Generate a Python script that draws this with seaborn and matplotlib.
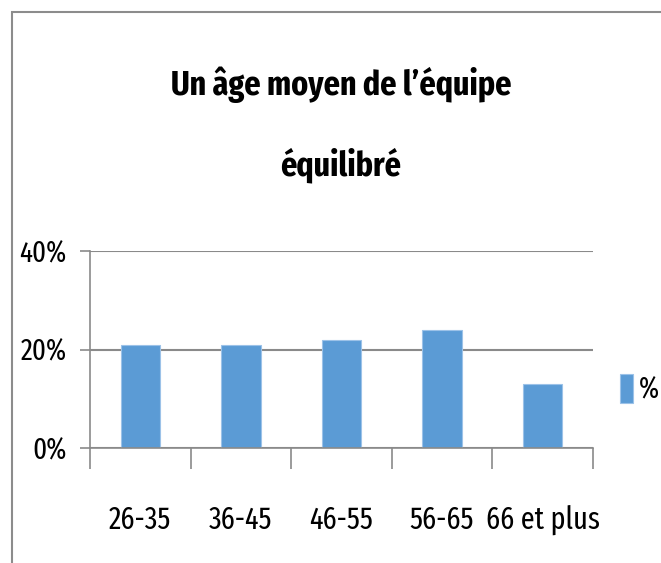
import matplotlib
matplotlib.use("Agg")
import matplotlib.pyplot as plt
import seaborn as sns
import pandas as pd
from matplotlib.ticker import PercentFormatter, FixedLocator
from matplotlib.patches import Rectangle

# data
categories = ['26-35', '36-45', '46-55', '56-65', '66 et plus']
values = [0.21, 0.21, 0.22, 0.24, 0.13]
series_name = '%'
title_lines = ["Un âge moyen de l’équipe", "équilibré"]

sns.set_style('white')
plt.rcParams['font.family'] = ['Fira Sans Extra Condensed', 'DejaVu Sans']
plt.rcParams['text.color'] = 'black'
plt.rcParams['xtick.color'] = 'black'
plt.rcParams['ytick.color'] = 'black'

bar_color = '#5B9BD5'
axis_gray = '#8a8a8a'

df = pd.DataFrame({'Tranche': categories, 'Part': values, 'serie': series_name})

fig = plt.figure(figsize=(6.61, 5.63), dpi=100)
ax = fig.add_axes([90 / 661, 1 - 448 / 563, 503 / 661, 197 / 563])

sns.barplot(data=df, x='Tranche', y='Part', hue='serie', palette=[bar_color],
            width=0.39, dodge=False, saturation=1, edgecolor='#9cc2e8',
            linewidth=0.8, ax=ax)

ax.set_xlim(-0.5, len(categories) - 0.5)
ax.set_ylim(0, 0.4)
ax.set_yticks([0, 0.2, 0.4])
ax.yaxis.set_major_formatter(PercentFormatter(1.0, decimals=0))
ax.set_xlabel('')
ax.set_ylabel('')

# gridlines and spines
ax.grid(axis='y', color=axis_gray, linewidth=1.5)
ax.set_axisbelow(True)
for side in ['top', 'right']:
    ax.spines[side].set_visible(False)
for side in ['left', 'bottom']:
    ax.spines[side].set_color(axis_gray)
    ax.spines[side].set_linewidth(1.2)

# category labels centred, tick marks on the boundaries
ax.xaxis.set_minor_locator(FixedLocator([i - 0.5 for i in range(len(categories) + 1)]))
ax.tick_params(axis='x', which='major', length=0, pad=41, labelsize=22)
ax.tick_params(axis='x', which='minor', bottom=True, length=15, width=1.2,
               color=axis_gray, direction='out')
ax.tick_params(axis='y', which='major', left=True, length=7, width=1.2,
               color=axis_gray, direction='out', pad=10, labelsize=21)

# legend
ax.legend(title=None, loc='center left', bbox_to_anchor=(1.054, 0.3), frameon=False,
          fontsize=21, handlelength=0.45, handleheight=1.2, handletextpad=0.2,
          borderpad=0, borderaxespad=0)

# two-line title
fig.text(341 / 661, 1 - 95 / 563, title_lines[0], ha='center', va='baseline',
         fontsize=25, fontweight='bold')
fig.text(341 / 661, 1 - 175 / 563, title_lines[1], ha='center', va='baseline',
         fontsize=25, fontweight='bold')

# chart frame (top and left edges visible)
fig.add_artist(Rectangle((12 / 661, -0.1), 1.2, 1.1 - 12 / 563,
                         transform=fig.transFigure, fill=False,
                         edgecolor='#8c8c8c', linewidth=1.5))

fig.savefig('out.png', dpi=100)
